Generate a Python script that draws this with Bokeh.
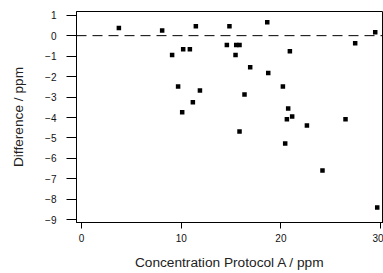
from bokeh.plotting import figure
from bokeh.models import FixedTicker, Span, ColumnDataSource
from bokeh.embed import file_html
from bokeh.resources import INLINE

# Concentration Protocol A / ppm
conc_a = [3.75, 8.09, 9.09, 9.69, 10.10, 10.20, 10.87, 11.17, 11.88, 11.47,
          14.58, 14.84, 15.52, 15.85, 15.45, 15.85, 16.35, 16.92, 18.63, 18.73,
          20.20, 20.73, 20.60, 21.13, 20.43, 20.90, 22.61, 24.17, 26.48, 27.45,
          29.46, 29.66]
# Difference / ppm
difference = [0.37, 0.25, -0.95, -2.48, -3.74, -0.67, -0.67, -3.25, -2.68, 0.46,
              -0.46, 0.46, -0.46, -0.46, -0.95, -4.68, -2.87, -1.55, 0.66, -1.83,
              -2.48, -3.56, -4.08, -3.95, -5.27, -0.76, -4.39, -6.59, -4.08, -0.37,
              0.16, -8.40]

x_ticks = [0, 10, 20, 30]
y_ticks = [1, 0, -1, -2, -3, -4, -5, -6, -7, -8, -9]

source = ColumnDataSource(data=dict(x=conc_a, y=difference))

p = figure(width=383, height=273, output_backend="svg", toolbar_location=None,
           x_range=(-0.5, 30.29), y_range=(-9.13, 1.18),
           min_border_left=76, min_border_right=0, min_border_top=11,
           min_border_bottom=51)

p.xgrid.visible = False
p.ygrid.visible = False
p.background_fill_color = "white"
p.border_fill_color = "white"
p.outline_line_color = "black"
p.outline_line_width = 1
p.outline_line_alpha = 1

p.add_layout(Span(location=0, dimension="width", line_color="black",
                  line_width=1, line_dash="10 6"))

p.scatter("x", "y", source=source, marker="square", size=4.5,
          fill_color="black", line_color=None)

font = "Liberation Sans"

xa = p.xaxis[0]
xa.ticker = FixedTicker(ticks=x_ticks)
xa.axis_label = "Concentration Protocol A / ppm"
xa.axis_label_text_font = font
xa.axis_label_text_font_size = "13.7px"
xa.axis_label_text_font_style = "normal"
xa.axis_label_text_color = "#222222"
xa.axis_label_standoff = 10
xa.major_label_text_font = font
xa.major_label_text_font_size = "10px"
xa.major_label_text_color = "#111111"
xa.major_label_standoff = 5
xa.major_tick_out = 6
xa.major_tick_in = 0
xa.minor_tick_out = 0
xa.minor_tick_in = 0
xa.axis_line_color = "black"
xa.major_tick_line_color = "black"

ya = p.yaxis[0]
ya.ticker = FixedTicker(ticks=y_ticks)
ya.axis_label = "Difference / ppm"
ya.axis_label_text_font = font
ya.axis_label_text_font_size = "13.7px"
ya.axis_label_text_font_style = "normal"
ya.axis_label_text_color = "#222222"
ya.axis_label_standoff = 16
ya.major_label_text_font = font
ya.major_label_text_font_size = "10px"
ya.major_label_text_color = "#111111"
ya.major_label_standoff = 10
ya.major_tick_out = 10
ya.major_tick_in = 0
ya.minor_tick_out = 0
ya.minor_tick_in = 0
ya.axis_line_color = "black"
ya.major_tick_line_color = "black"

open("out.html", "w").write(file_html(p, INLINE))
